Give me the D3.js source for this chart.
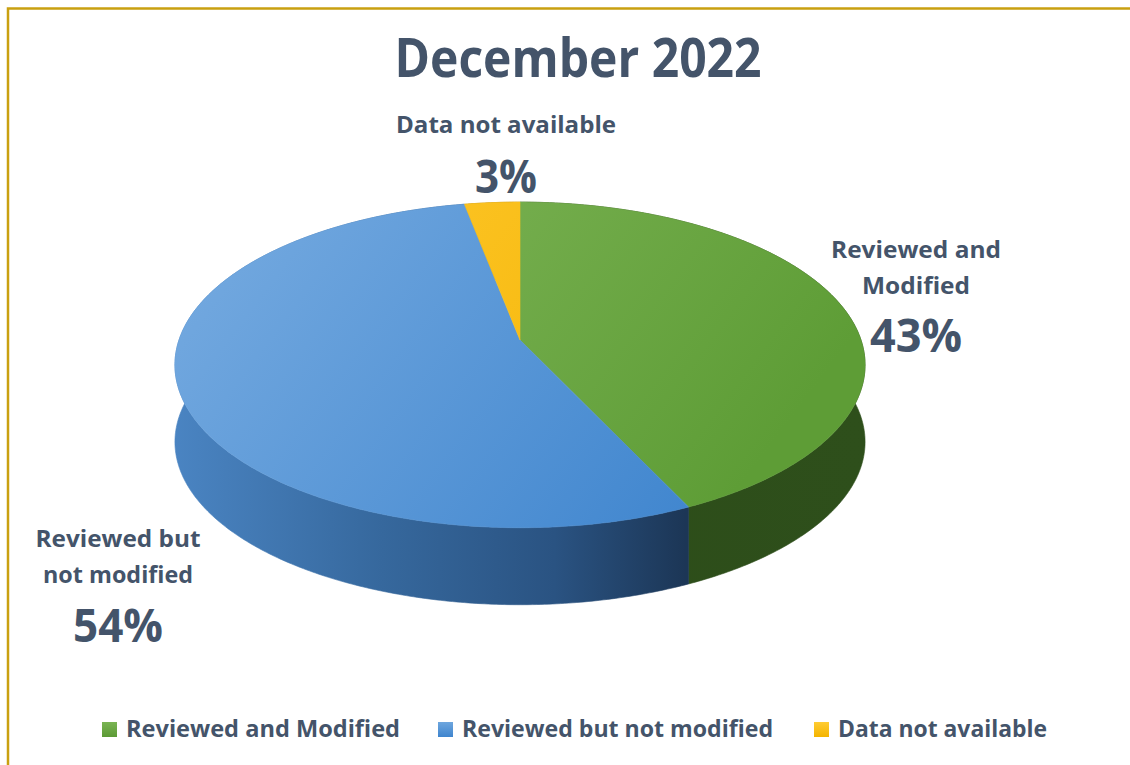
<!DOCTYPE html>
<html><head><meta charset="utf-8">
<script src="https://cdn.jsdelivr.net/npm/d3@7"></script>
<style>
body{margin:0;background:#fff}
svg{display:block}
text{font-family:"Open Sans",sans-serif;font-weight:700;fill:#44546a}
</style>
</head><body>
<svg id="c" width="1130" height="765"></svg>
<script>
// ---- data ----
const title = "December 2022";
const categories = ["Reviewed and Modified", "Reviewed but not modified", "Data not available"];
const values = [43, 54, 3];
const labelLines = [["Reviewed and", "Modified"], ["Reviewed but", "not modified"], ["Data not available"]];
const percentLabels = values.map(v => v + "%");

// ---- styles / layout ----
const topColors  = [["#80b659", "#5e9d36"], ["#72a8df", "#3f85ce"], ["#ffc82e", "#f2b300"]];
const sideColors = [["#2b4a17", "#2e4f1b"], ["#4680be", "#1c3758"], ["#b88600", "#a57500"]];
const swatchColors = [["#7ab453", "#5c9a35"], ["#6ea6de", "#3f85ce"], ["#ffcc33", "#f4b400"]];
const P = {cx: 520, cy: 340, A: 341, B: 159, k: -0.153, depth: 77};
const labelLayout = [
  {x: 916, ys: [258, 294], ws: [170, 108], py: 352, pw: 92},
  {x: 118, ys: [547, 583], ws: [165, 150], py: 642, pw: 90},
  {x: 506, ys: [133], ws: [220], py: 193, pw: 62}
];
const legendLayout = {sx: [102, 438, 814], tx: [126, 462, 838], tw: [274, 311, 209], y: 737, size: 15};

const svg = d3.select("#c");
const defs = svg.append("defs");
function lin(id, x1, y1, x2, y2, stops) {
  const g = defs.append("linearGradient").attr("id", id)
    .attr("gradientUnits", "userSpaceOnUse")
    .attr("x1", x1).attr("y1", y1).attr("x2", x2).attr("y2", y2);
  stops.forEach(s => g.append("stop").attr("offset", s[0]).attr("stop-color", s[1]));
}

// border
svg.append("path").attr("d", "M8,765 V8.5 H1130")
  .attr("fill", "none").attr("stroke", "#c9a010").attr("stroke-width", 2.5);

// title
svg.append("text").attr("x", 578).attr("y", 77).attr("text-anchor", "middle")
  .attr("font-size", 54).attr("textLength", 367).attr("lengthAdjust", "spacingAndGlyphs")
  .text(title);

// ---- 3D pie ----
function proj(theta, dy) {
  const u = Math.sin(theta), v = -Math.cos(theta);
  const w = 1 + P.k * v;
  return [P.cx + P.A * u / w, P.cy + P.B * v / w + (dy || 0)];
}
function arcPts(a0, a1, dy) {
  const n = Math.max(2, Math.ceil((a1 - a0) / 0.01));
  return d3.range(n + 1).map(i => proj(a0 + (a1 - a0) * i / n, dy));
}
const arcs = d3.pie().sort(null).value(d => d)(values);
const line = d3.line();

arcs.forEach((a, i) => {
  lin("side" + i, 175, 0, 865, 0, [[0, sideColors[i][0]], [1, sideColors[i][1]]]);
  lin("top" + i, 250, 200, 700, 540, [[0, topColors[i][0]], [1, topColors[i][1]]]);
});
// blue side: add extra stops for darker right part
d3.select("#side1").selectAll("stop").remove();
[[0, "#4a84c2"], [0.3, "#36689d"], [0.55, "#2a5382"], [0.74, "#1c3656"]].forEach(s =>
  d3.select("#side1").append("stop").attr("offset", s[0]).attr("stop-color", s[1]));

const gSide = svg.append("g");
const gTop = svg.append("g");
arcs.forEach((a, i) => {
  const top = arcPts(a.startAngle, a.endAngle, 0);
  const bot = arcPts(a.startAngle, a.endAngle, P.depth).reverse();
  gSide.append("path").attr("d", line(top.concat(bot)) + "Z")
    .attr("fill", `url(#side${i})`).attr("stroke", `url(#side${i})`).attr("stroke-width", 0.6);
  const c = [P.cx, P.cy];
  gTop.append("path").attr("d", line([c].concat(top)) + "Z")
    .attr("fill", `url(#top${i})`).attr("stroke", `url(#top${i})`).attr("stroke-width", 0.6);
});

// ---- data labels ----
labelLayout.forEach((L, i) => {
  labelLines[i].forEach((t, j) => {
    svg.append("text").attr("x", L.x).attr("y", L.ys[j]).attr("text-anchor", "middle")
      .attr("font-size", 23).attr("textLength", L.ws[j]).attr("lengthAdjust", "spacingAndGlyphs")
      .text(t);
  });
  svg.append("text").attr("x", L.x).attr("y", L.py).attr("text-anchor", "middle")
    .attr("font-size", 46).attr("textLength", L.pw).attr("lengthAdjust", "spacingAndGlyphs")
    .text(percentLabels[i]);
});

// ---- legend ----
categories.forEach((c, i) => {
  lin("sw" + i, 0, 722, 0, 737, [[0, swatchColors[i][0]], [1, swatchColors[i][1]]]);
  svg.append("rect").attr("x", legendLayout.sx[i]).attr("y", legendLayout.y - legendLayout.size)
    .attr("width", legendLayout.size).attr("height", legendLayout.size)
    .attr("fill", `url(#sw${i})`);
  svg.append("text").attr("x", legendLayout.tx[i]).attr("y", legendLayout.y)
    .attr("font-size", 24).attr("textLength", legendLayout.tw[i]).attr("lengthAdjust", "spacingAndGlyphs")
    .text(c);
});
</script>
</body></html>
